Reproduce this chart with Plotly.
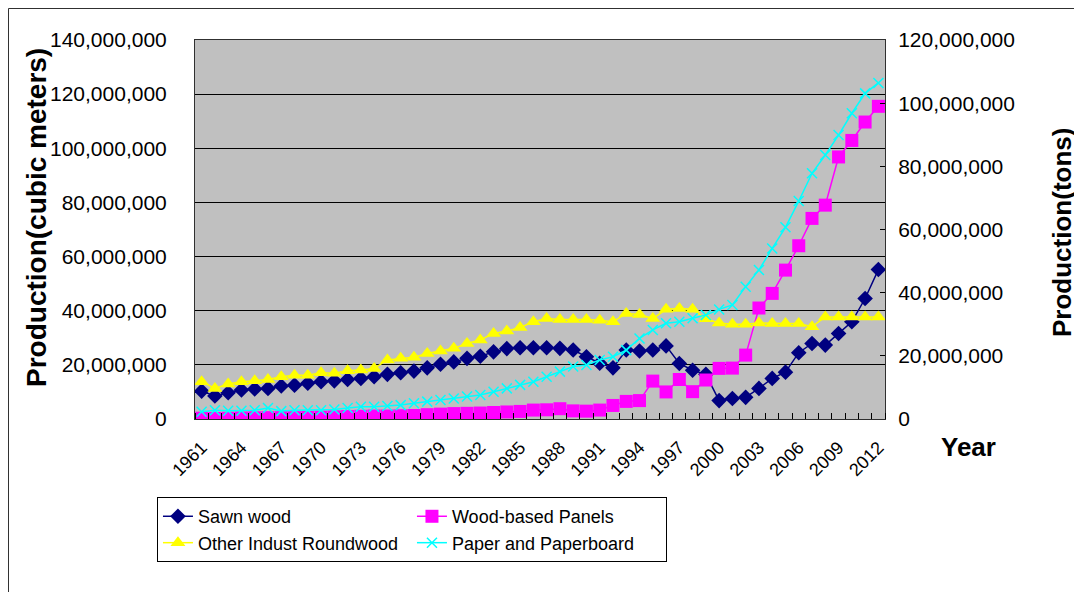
import plotly.graph_objects as go

years = list(range(1961, 2013))

sawn_wood = [10.3, 8.5, 9.7, 10.7, 11.1, 11.3, 12.2, 12.5, 13.2, 13.8,
             14.1, 14.6, 15.0, 15.6, 16.5, 17.1, 17.7, 18.9, 20.2, 21.1,
             22.4, 23.2, 24.8, 26.0, 26.3, 26.3, 26.3, 26.1, 25.5, 23.0,
             20.6, 18.9, 25.5, 25.1, 25.5, 27.0, 20.5, 18.0, 16.5, 6.8,
             7.6, 8.0, 11.3, 15.0, 17.3, 24.5, 27.9, 27.3, 31.6, 35.9,
             44.5, 55.2]

wood_panels = [0.3, 0.2, 0.3, 0.4, 0.45, 0.5, 0.5, 0.5, 0.6, 0.7,
               0.8, 0.9, 1.0, 1.1, 1.1, 1.2, 1.3, 1.6, 1.8, 2.0,
               2.1, 2.2, 2.4, 2.6, 2.8, 3.3, 3.4, 3.8, 3.0, 2.9,
               3.3, 5.0, 6.5, 6.8, 14.0, 10.0, 14.6, 10.1, 14.4, 18.7,
               18.8, 23.6, 41.0, 46.4, 55.0, 64.0, 74.1, 79.0, 96.8, 102.9,
               109.7, 115.5]

roundwood = [13.8, 11.3, 12.9, 13.8, 14.1, 14.6, 15.6, 16.2, 16.2, 17.1,
             16.9, 17.8, 18.1, 18.7, 21.8, 22.4, 22.8, 24.2, 25.1, 26.1,
             27.9, 29.2, 31.6, 32.5, 33.8, 35.9, 37.1, 36.8, 36.8, 36.8,
             36.5, 35.9, 39.0, 38.6, 37.1, 40.5, 40.8, 40.5, 37.0, 35.5,
             35.0, 35.0, 35.5, 35.3, 35.3, 35.3, 34.1, 37.7, 37.7, 37.7,
             37.7, 37.7]

paper = [2.3, 2.8, 2.6, 2.6, 2.8, 3.5, 2.5, 2.8, 2.8, 2.8,
         3.0, 3.5, 3.9, 3.9, 4.1, 4.4, 5.0, 5.5, 6.0, 6.5,
         7.1, 7.6, 8.6, 9.7, 10.8, 11.8, 13.4, 15.0, 16.6, 17.1,
         18.7, 19.7, 21.8, 25.5, 28.2, 30.3, 30.8, 31.9, 32.9, 34.7,
         36.1, 41.9, 47.2, 54.0, 60.7, 69.0, 77.8, 83.6, 89.9, 96.8,
         103.1, 106.4]

label_years = list(range(1961, 2013, 3))

M = 1e6
FONT = "Arial, Liberation Sans, sans-serif"

fig = go.Figure()
fig.add_trace(go.Scatter(
    x=years, y=[v * M for v in sawn_wood], name="Sawn wood", mode="lines+markers",
    line=dict(color="#000080", width=1.5),
    marker=dict(symbol="diamond", size=12, color="#000080")))
fig.add_trace(go.Scatter(
    x=years, y=[v * M for v in wood_panels], name="Wood-based Panels", mode="lines+markers",
    line=dict(color="#FF00FF", width=1.5),
    marker=dict(symbol="square", size=13, color="#FF00FF")))
fig.add_trace(go.Scatter(
    x=years, y=[v * M for v in roundwood], name="Other Indust Roundwood", mode="lines+markers",
    line=dict(color="#FFFF00", width=1.5),
    marker=dict(symbol="triangle-up", size=13, color="#FFFF00")))
fig.add_trace(go.Scatter(
    x=years, y=[v * M for v in paper], name="Paper and Paperboard", mode="lines+markers",
    yaxis="y2",
    line=dict(color="#00FFFF", width=1.5),
    marker=dict(symbol="x-thin-open", size=10, color="#00FFFF",
                line=dict(color="#00FFFF", width=1.5))))

fig.update_layout(
    width=1074, height=584,
    margin=dict(l=187, r=197, t=32, b=173, autoexpand=False),
    paper_bgcolor="white",
    plot_bgcolor="#C0C0C0",
    font=dict(family=FONT, color="black"),
    showlegend=True,
    legend=dict(
        orientation="h", x=0.684, xanchor="right", y=-0.206, yanchor="top",
        entrywidth=209, entrywidthmode="pixels",
        bgcolor="white", bordercolor="black", borderwidth=1,
        font=dict(size=18, family=FONT, color="black"),
        traceorder="normal",
    ),
    xaxis=dict(
        range=[1960.5, 2012.5],
        tickmode="array", tickvals=label_years, ticktext=[str(y) for y in label_years],
        tickangle=-45, ticks="", tickfont=dict(size=18, family=FONT, color="black"),
        ticklabelstandoff=10,
        showgrid=False, zeroline=False,
        showline=True, linecolor="#303030", linewidth=1, mirror=True,
        minor=dict(tick0=1960.5, dtick=1, ticks="inside", ticklen=6,
                   tickcolor="black", showgrid=False),
    ),
    yaxis=dict(
        range=[0, 140e6], dtick=20e6, tick0=0, tickformat=",d",
        tickfont=dict(size=21, family=FONT, color="black"),
        showgrid=True, gridcolor="black", gridwidth=1,
        zeroline=False, showline=True, linecolor="#303030", linewidth=1,
        ticks="", ticklabelstandoff=23,
    ),
    yaxis2=dict(
        range=[0, 120e6], dtick=20e6, tick0=0, tickformat=",d",
        overlaying="y", side="right",
        tickfont=dict(size=21, family=FONT, color="black"),
        showgrid=False, zeroline=False, showline=True, linecolor="#303030", linewidth=1,
        ticks="inside", ticklen=5, tickcolor="black", ticklabelstandoff=8,
    ),
    shapes=[dict(type="rect", xref="paper", yref="paper",
                 x0=-0.2703, x1=1.32, y0=-0.62, y1=1.0831,
                 line=dict(color="#303030", width=1), fillcolor="rgba(0,0,0,0)",
                 layer="below")],
    annotations=[
        dict(text="<b>Production(cubic meters)</b>", xref="paper", yref="paper",
             x=-0.229, y=0.533, textangle=-90, showarrow=False,
             font=dict(size=28, family=FONT, color="black"),
             xanchor="center", yanchor="middle"),
        dict(text="<b>Production(tons)</b>", xref="paper", yref="paper",
             x=1.2565, y=0.4934, textangle=-90, showarrow=False,
             font=dict(size=26, family=FONT, color="black"),
             xanchor="center", yanchor="middle"),
        dict(text="<b>Year</b>", xref="paper", yref="paper",
             x=1.1203, y=-0.0739, showarrow=False,
             font=dict(size=26, family=FONT, color="black"),
             xanchor="center", yanchor="middle"),
    ],
)

fig.write_html("out.html")
